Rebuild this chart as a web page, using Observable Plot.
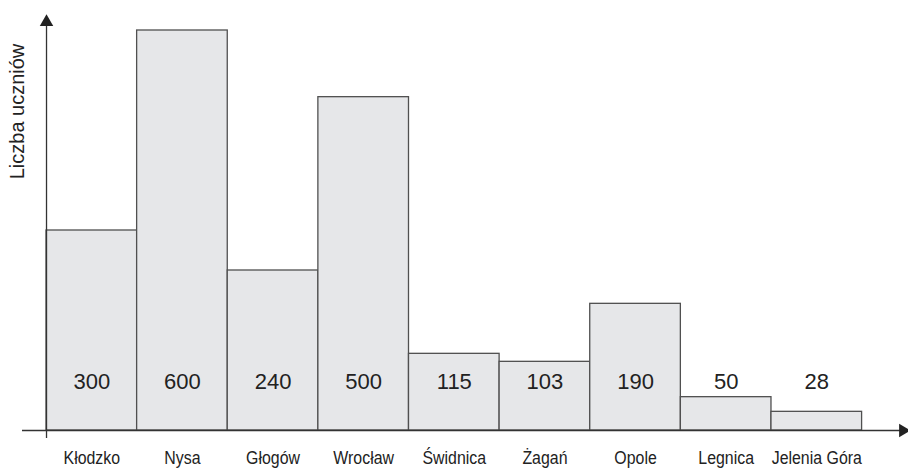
<!DOCTYPE html>
<html>
<head>
<meta charset="utf-8">
<script src="https://cdn.jsdelivr.net/npm/d3@7"></script>
<script src="https://cdn.jsdelivr.net/npm/@observablehq/plot@0.6"></script>
<style>
  html, body { margin: 0; padding: 0; background: #fff; }
</style>
</head>
<body>
<div id="chart"></div>
<script>
const cities = ["Kłodzko", "Nysa", "Głogów", "Wrocław", "Świdnica", "Żagań", "Opole", "Legnica", "Jelenia Góra"];
const students = [300, 600, 240, 500, 115, 103, 190, 50, 28];
const yTitle = "Liczba uczniów";

const data = cities.map((c, i) => ({city: c, i, value: students[i]}));

const chart = Plot.plot({
  width: 908,
  height: 468,
  marginLeft: 22,
  marginRight: 2,
  marginTop: 14,
  marginBottom: 30,
  x: {type: "linear", domain: [-0.265, 9.49], axis: null},
  y: {type: "linear", domain: [-12, 624], axis: null},
  marks: [
    Plot.rect(data, {
      x1: d => d.i, x2: d => d.i + 1, y1: 0, y2: "value",
      fill: "#e6e7e9", stroke: "#505050", strokeWidth: 1.3
    }),
    Plot.ruleY([0], {stroke: "#333", strokeWidth: 1.3}),
    Plot.ruleX([0], {y1: -12, y2: 615, stroke: "#333", strokeWidth: 1.3}),
    Plot.dot([0], {x: 0, y: 624, dy: 7.5, symbol: "triangle", r: 5, fill: "#222", stroke: "none"}),
    Plot.dot([0], {x: 9.49, y: 0, dx: -3.5, symbol: "triangle", r: 5, rotate: 90, fill: "#222", stroke: "none"}),
    Plot.text(data, {
      x: d => d.i + 0.5, y: 0, text: d => String(d.value), dy: -49,
      lineAnchor: "middle", textAnchor: "middle",
      fontFamily: "Liberation Sans, Arial, sans-serif", fontSize: 22, fill: "#222"
    }),
    Plot.text(data, {
      x: d => d.i + 0.5, y: 0, text: "city", dy: 27.5,
      lineAnchor: "middle", textAnchor: "middle",
      fontFamily: "Liberation Sans, Arial, sans-serif", fontSize: 18.5, fill: "#222"
    }),
    Plot.text([yTitle], {
      frameAnchor: "top-left", dx: -4.5, dy: 97, rotate: -90,
      lineAnchor: "middle", textAnchor: "middle",
      fontFamily: "Liberation Sans, Arial, sans-serif", fontSize: 20, fill: "#222"
    })
  ]
});
// condense the category labels horizontally
d3.select(chart).selectAll("text").each(function() {
  const t = d3.select(this);
  if (cities.includes(t.text())) {
    const tr = t.attr("transform");
    if (tr) {
      t.attr("transform", tr + " scale(0.86,1)");
    } else {
      const x = +t.attr("x");
      t.attr("transform", `translate(${x},0) scale(0.86,1) translate(${-x},0)`);
    }
  }
});
document.getElementById("chart").appendChild(chart);
</script>
</body>
</html>
